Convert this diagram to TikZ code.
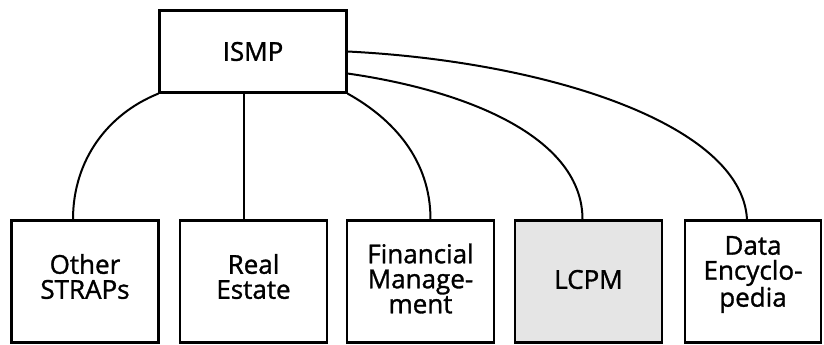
\documentclass[tikz,border=0pt]{standalone}
\usepackage{fontspec}
\setmainfont{Open Sans}[FakeBold=1.2]
\begin{document}
\begin{tikzpicture}[x=1pt,y=-1pt,
  txt/.style={align=center,font=\fontsize{26}{25}\selectfont,inner sep=0pt},
  box/.style={draw=black,line width=2.2pt,rectangle,inner sep=0pt,
    minimum width=147pt,minimum height=122pt},
  topbox/.style={box,minimum width=187pt,minimum height=82pt},
  conn/.style={draw=black,line width=2pt}]
\useasboundingbox (0,0) rectangle (824,345);
\node[topbox,txt] (ismp) at (253,51.5) {ISMP};
\node[box,label={[txt,yshift=5pt]center:Other\\STRAPs}] (os) at (85,281.5) {};
\node[box,label={[txt,yshift=5pt]center:Real\\Estate}] (re) at (253.5,281.5) {};
\node[box,label={[txt,yshift=3pt]center:Financial\\Manage-\\ment}] (fm) at (420.5,281.5) {};
\node[box,fill=black!10,label={[txt,yshift=2pt]center:LCPM}] (lcpm) at (588.5,281.5) {};
\node[box,minimum width=136pt,label={[txt,yshift=7pt]center:Data\\Encyclo-\\pedia}] (de) at (753,281.5) {};
% connectors
\draw[conn] (ismp.south west) .. controls +(-50,20) and +(0,-60) .. ([xshift=-12pt]os.north);
\draw[conn] ([xshift=-10pt]re.north) -- ([xshift=-10pt]re.north |- ismp.south);
\draw[conn] (ismp.south east) .. controls +(45,25) and +(0,-60) .. ([xshift=10pt]fm.north);
\draw[conn] ([yshift=-22pt]ismp.east) .. controls +(125,18) and +(0,-80) .. ([xshift=-6pt]lcpm.north);
\draw[conn] ([yshift=0pt]ismp.east) .. controls +(200,10) and +(-5,-95) .. ([xshift=-6pt]de.north);
\end{tikzpicture}
\end{document}
